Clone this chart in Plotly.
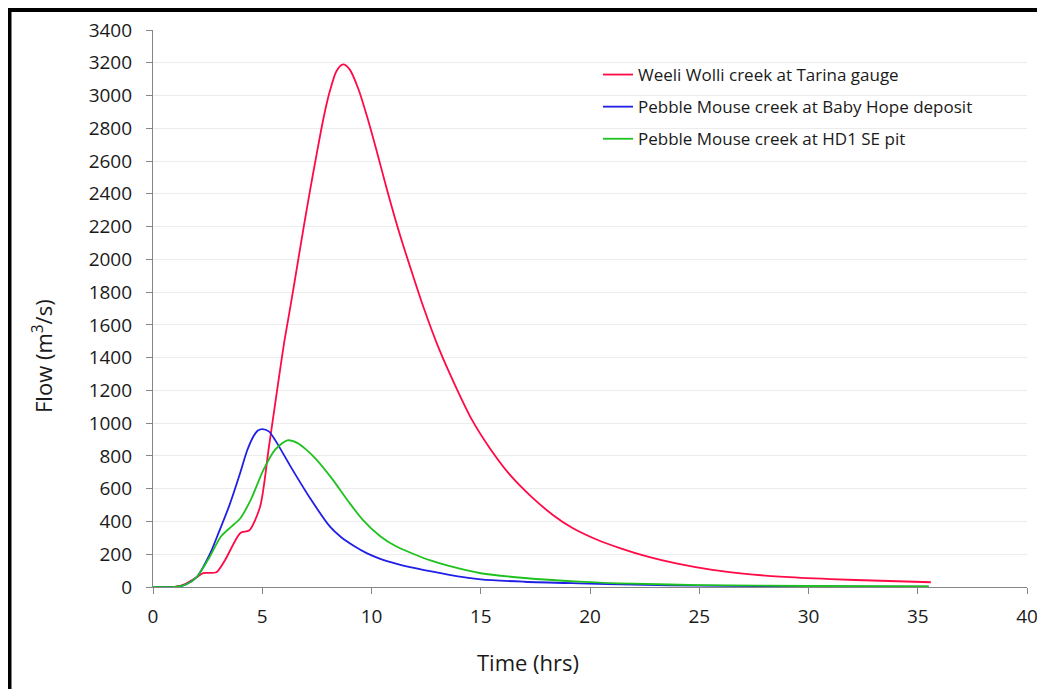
import plotly.graph_objects as go

# ---- data ----
red_name = "Weeli Wolli creek at Tarina gauge"
red_t = [0, 1.0, 1.5, 2.0, 2.3, 2.9, 3.3, 4.0, 4.4, 4.9, 5.3, 5.7, 6.0, 6.3, 6.6, 6.9,
         7.2, 7.5, 7.8, 8.1, 8.4, 8.7, 9.0, 9.4, 9.8, 10.2, 10.7, 11.3, 11.9, 12.4, 13.1,
         13.9, 14.6, 15.4, 16.3, 17.3, 18.3, 19.2, 20.3, 21.4, 22.6, 24.0, 25.6, 27.0,
         28.7, 31.0, 33.3, 35.6]
red_v = [0, 0, 20, 60, 85, 90, 165, 330, 345, 490, 850, 1220, 1490, 1720, 1960, 2200,
         2430, 2650, 2860, 3030, 3150, 3190, 3160, 3040, 2870, 2680, 2430, 2150, 1900, 1700,
         1450, 1210, 1020, 850, 690, 553, 440, 360, 290, 236, 187, 142, 104, 82,
         63, 48, 38, 29]

blue_name = "Pebble Mouse creek at Baby Hope deposit"
blue_t = [0, 1.0, 1.5, 2.0, 2.6, 3.0, 3.5, 4.0, 4.3, 4.6, 4.8, 5.0, 5.3, 5.6, 6.3, 7.2,
          8.1, 8.6, 9.2, 9.8, 10.4, 11.2, 12.0, 13.5, 15.0, 17.0, 19.5, 22.0, 25.0,
          30.0, 35.5]
blue_v = [0, 0, 15, 60, 200, 330, 500, 700, 830, 920, 955, 964, 950, 895, 735, 540,
          368, 305, 250, 205, 172, 140, 115, 76, 47, 32, 22, 14, 8,
          4, 2]

green_name = "Pebble Mouse creek at HD1 SE pit"
green_t = [0, 1.0, 1.5, 2.0, 2.6, 3.1, 3.6, 4.0, 4.5, 5.05, 5.6, 6.15, 6.6, 7.0, 7.5,
           8.2, 8.9, 9.6, 10.4, 11.1, 11.9, 12.7, 13.5, 15.0, 17.0, 19.5, 22.0, 25.0,
           30.0, 35.5]
green_v = [0, 0, 15, 60, 185, 307, 370, 420, 540, 714, 840, 895, 880, 840, 775,
           660, 530, 410, 310, 250, 203, 162, 130, 84, 55, 33, 20, 12,
           6, 3]

x_ticks = [0, 5, 10, 15, 20, 25, 30, 35, 40]
y_ticks = list(range(0, 3401, 200))

x_title = "Time (hrs)"
y_title = "Flow (m<sup>3</sup>/s)"

# ---- figure ----
FONT = "Open Sans"
OFF = 8  # page offset of the figure inside the browser window
W, H = 1045 - OFF, 689 - OFF
L, R, T, B = 153 - OFF, 18, 30 - OFF, 102
pw, ph = W - L - R, H - T - B


def px_x(p):
    """screen x pixel -> paper x"""
    return (p - OFF - L) / pw


def px_y(p):
    """screen y pixel -> paper y"""
    return (H - B - (p - OFF)) / ph


fig = go.Figure()
for t, v, name, col in [(red_t, red_v, red_name, "#ff0a46"),
                        (blue_t, blue_v, blue_name, "#1f1fe6"),
                        (green_t, green_v, green_name, "#1ec21e")]:
    fig.add_trace(go.Scatter(x=t, y=v, name=name, mode="lines",
                             line=dict(color=col, width=1.8, shape="spline", smoothing=0.75),
                             legendgroup=name))

fig.update_layout(
    width=W, height=H,
    margin=dict(l=L, r=R, t=T, b=B, autoexpand=False),
    paper_bgcolor="white", plot_bgcolor="white",
    font=dict(family=FONT, color="#1a1a1a"),
    showlegend=True,
    legend=dict(x=px_x(598), y=px_y(57), xanchor="left", yanchor="top",
                bgcolor="rgba(0,0,0,0)", font=dict(size=17, family=FONT, color="#1a1a1a"),
                tracegroupgap=7, traceorder="grouped"),
    xaxis=dict(range=[0, 40], tickvals=x_ticks, ticks="outside", ticklen=6,
               tickcolor="#868686", showline=True, linecolor="#868686", linewidth=1.2,
               showgrid=False, zeroline=False, tickfont=dict(size=19, family=FONT),
               ticklabelstandoff=6, fixedrange=True),
    yaxis=dict(range=[0, 3400], tickvals=y_ticks, ticks="outside", ticklen=6,
               tickcolor="#868686", showline=True, linecolor="#868686", linewidth=1.2,
               showgrid=True, gridcolor="#ececec", gridwidth=1, zeroline=False,
               tickfont=dict(size=19, family=FONT), ticklabelstandoff=10,
               fixedrange=True),
    annotations=[
        dict(text=x_title, xref="paper", yref="paper", x=px_x(528), y=px_y(662),
             xanchor="center", yanchor="middle", showarrow=False,
             font=dict(size=22, family=FONT, color="#1a1a1a")),
        dict(text=y_title, xref="paper", yref="paper", x=px_x(42), y=px_y(356),
             xanchor="center", yanchor="middle", showarrow=False, textangle=-90,
             font=dict(size=22, family=FONT, color="#1a1a1a")),
    ],
    shapes=[
        dict(type="line", xref="paper", yref="paper", x0=px_x(9.5), x1=px_x(9.5),
             y0=px_y(8), y1=px_y(700), line=dict(color="black", width=4)),
        dict(type="line", xref="paper", yref="paper", x0=px_x(8), x1=px_x(1050),
             y0=px_y(10), y1=px_y(10), line=dict(color="black", width=4)),
    ],
)

fig.write_html("out.html")
